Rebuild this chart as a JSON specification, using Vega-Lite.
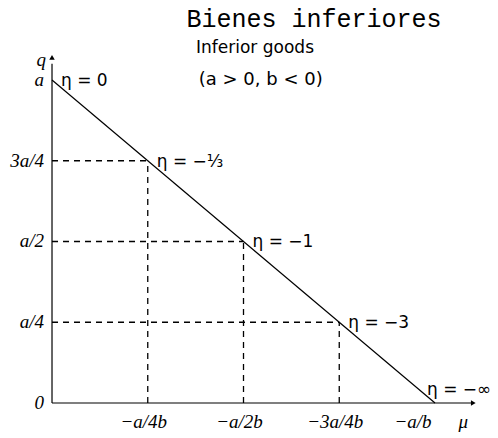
{
  "$schema": "https://vega.github.io/schema/vega-lite/v6.json",
  "width": 498,
  "height": 438,
  "autosize": {"type": "fit", "contains": "padding"},
  "padding": 0,
  "background": "white",
  "config": {"view": {"stroke": null}},
  "datasets": {
    "axes": [
      {"x": 0, "y": 0, "x2": 0, "y2": 1.05},
      {"x": 0, "y": 0, "x2": 1.1, "y2": 0}
    ],
    "curve": [
      {"x": 0, "y": 1},
      {"x": 1, "y": 0}
    ],
    "dashed": [
      {"x": 0, "y": 0.75, "x2": 0.25, "y2": 0.75},
      {"x": 0, "y": 0.5, "x2": 0.5, "y2": 0.5},
      {"x": 0, "y": 0.25, "x2": 0.75, "y2": 0.25},
      {"x": 0.25, "y": 0, "x2": 0.25, "y2": 0.75},
      {"x": 0.5, "y": 0, "x2": 0.5, "y2": 0.5},
      {"x": 0.75, "y": 0, "x2": 0.75, "y2": 0.25}
    ],
    "ylabels": [
      {"x": 0, "y": 1, "label": "a"},
      {"x": 0, "y": 0.75, "label": "3a/4"},
      {"x": 0, "y": 0.5, "label": "a/2"},
      {"x": 0, "y": 0.25, "label": "a/4"},
      {"x": 0, "y": 0, "label": "0"}
    ],
    "xlabels": [
      {"x": 0.25, "y": 0, "label": "−a/4b"},
      {"x": 0.5, "y": 0, "label": "−a/2b"},
      {"x": 0.75, "y": 0, "label": "−3a/4b"}
    ],
    "xlabelEnd": [
      {"x": 1, "y": 0, "label": "−a/b"}
    ],
    "eta": [
      {"x": 0, "y": 1, "label": "η = 0"},
      {"x": 0.25, "y": 0.75, "label": "η = −⅓"},
      {"x": 0.5, "y": 0.5, "label": "η = −1"},
      {"x": 0.75, "y": 0.25, "label": "η = −3"}
    ],
    "etaEnd": [
      {"x": 1, "y": 0, "label": "η = −∞"}
    ],
    "qlabel": [{"x": 0, "y": 1.07, "label": "q"}],
    "mulabel": [{"x": 1.1, "y": 0, "label": "μ"}],
    "title1": [{"x": 0.684, "y": 1.19, "label": "Bienes inferiores"}],
    "title2": [{"x": 0.53, "y": 1.098, "label": "Inferior goods"}],
    "title3": [{"x": 0.545, "y": 1.0, "label": "(a > 0, b < 0)"}]
  },
  "encoding": {
    "x": {"field": "x", "type": "quantitative", "scale": {"domain": [-0.1358, 1.1645], "nice": false, "zero": false}, "axis": null},
    "y": {"field": "y", "type": "quantitative", "scale": {"domain": [-0.1084, 1.2477], "nice": false, "zero": false}, "axis": null}
  },
  "layer": [
    {
      "data": {"name": "axes"},
      "mark": {"type": "rule", "color": "black", "strokeWidth": 1.2},
      "encoding": {"x2": {"field": "x2"}, "y2": {"field": "y2"}}
    },
    {
      "data": {"name": "qlabel"},
      "mark": {"type": "point", "shape": "triangle-up", "filled": true, "color": "black", "size": 30, "opacity": 1}
    },
    {
      "data": {"name": "mulabel"},
      "mark": {"type": "point", "shape": "triangle-right", "filled": true, "color": "black", "size": 30, "opacity": 1}
    },
    {
      "data": {"name": "dashed"},
      "mark": {"type": "rule", "color": "black", "strokeWidth": 1.3, "strokeDash": [6, 5]},
      "encoding": {"x2": {"field": "x2"}, "y2": {"field": "y2"}}
    },
    {
      "data": {"name": "curve"},
      "mark": {"type": "line", "color": "black", "strokeWidth": 1.2}
    },
    {
      "data": {"name": "ylabels"},
      "mark": {"type": "text", "align": "right", "baseline": "middle", "dx": -8, "font": "Liberation Serif", "fontStyle": "italic", "fontSize": 19, "color": "black"},
      "encoding": {"text": {"field": "label"}}
    },
    {
      "data": {"name": "xlabels"},
      "mark": {"type": "text", "align": "center", "baseline": "middle", "dx": -4, "dy": 19, "font": "Liberation Serif", "fontStyle": "italic", "fontSize": 19, "color": "black"},
      "encoding": {"text": {"field": "label"}}
    },
    {
      "data": {"name": "xlabelEnd"},
      "mark": {"type": "text", "align": "center", "baseline": "middle", "dx": -22, "dy": 19, "font": "Liberation Serif", "fontStyle": "italic", "fontSize": 19, "color": "black"},
      "encoding": {"text": {"field": "label"}}
    },
    {
      "data": {"name": "eta"},
      "mark": {"type": "text", "align": "left", "baseline": "middle", "dx": 9, "dy": 1, "font": "DejaVu Sans", "fontSize": 17, "color": "black"},
      "encoding": {"text": {"field": "label"}}
    },
    {
      "data": {"name": "etaEnd"},
      "mark": {"type": "text", "align": "left", "baseline": "middle", "dx": -8, "dy": -13, "font": "DejaVu Sans", "fontSize": 17, "color": "black"},
      "encoding": {"text": {"field": "label"}}
    },
    {
      "data": {"name": "qlabel"},
      "mark": {"type": "text", "align": "right", "baseline": "middle", "dx": -6, "dy": 3, "font": "Liberation Serif", "fontStyle": "italic", "fontSize": 19, "color": "black"},
      "encoding": {"text": {"field": "label"}}
    },
    {
      "data": {"name": "mulabel"},
      "mark": {"type": "text", "align": "center", "baseline": "middle", "dx": -10, "dy": 19, "font": "Liberation Serif", "fontStyle": "italic", "fontSize": 19, "color": "black"},
      "encoding": {"text": {"field": "label"}}
    },
    {
      "data": {"name": "title1"},
      "mark": {"type": "text", "align": "center", "baseline": "middle", "font": "Liberation Mono", "fontSize": 25, "color": "black"},
      "encoding": {"text": {"field": "label"}}
    },
    {
      "data": {"name": "title2"},
      "mark": {"type": "text", "align": "center", "baseline": "middle", "font": "DejaVu Sans", "fontSize": 17, "color": "black"},
      "encoding": {"text": {"field": "label"}}
    },
    {
      "data": {"name": "title3"},
      "mark": {"type": "text", "align": "center", "baseline": "middle", "font": "DejaVu Sans", "fontSize": 18, "color": "black"},
      "encoding": {"text": {"field": "label"}}
    }
  ]
}
